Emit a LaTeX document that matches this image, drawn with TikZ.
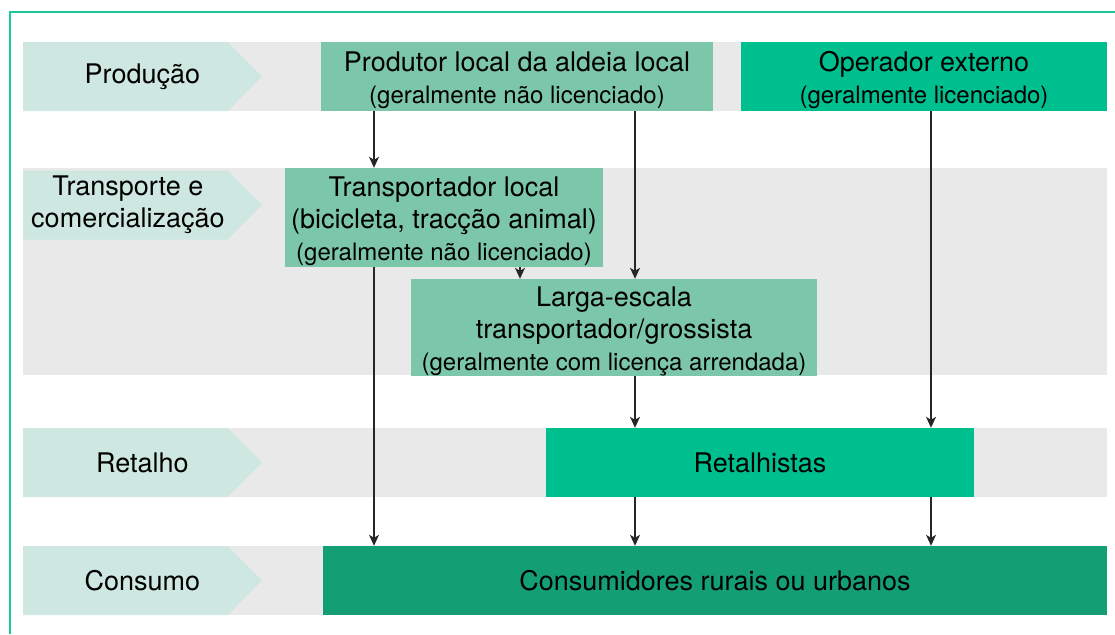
\documentclass[tikz,border=0pt]{standalone}
\usepackage{fontspec}
\setmainfont{TeX Gyre Heros}
\usepackage{xcolor}
\usepackage{tikz}
\usetikzlibrary{arrows.meta, shapes.symbols, positioning}

\definecolor{bandgray}{HTML}{E9E9E9}
\definecolor{stagemint}{HTML}{CEE7E0}
\definecolor{localgreen}{HTML}{7CC6AA}
\definecolor{tradegreen}{HTML}{00BF8F}
\definecolor{consgreen}{HTML}{149E74}
\definecolor{framegreen}{HTML}{1CC79C}
\definecolor{flowgray}{HTML}{262626}

\newcommand{\bigfont}{\fontsize{27}{32}\selectfont}
\newcommand{\smallfont}{\fontsize{24}{32}\selectfont}
\newcommand{\topstrut}{\rule{0pt}{27pt}}

\begin{document}
\begin{tikzpicture}[x=1pt,y=-1pt,>={Stealth[length=11pt,width=10pt,inset=3pt]},
    band/.style={fill=bandgray},
    stage/.style={shape=signal,signal to=east,signal pointer angle=90,fill=stagemint,anchor=west,
      minimum width=239pt,minimum height=69pt,inner sep=0pt,font=\bigfont,align=center},
    actor/.style={shape=rectangle,inner sep=0pt,font=\bigfont,align=center},
    flow/.style={->,line width=1.3pt,color=flowgray}]
    \useasboundingbox (0,0) rectangle (1115,634);

    %%%% frame
    \draw [color=framegreen,line width=2pt] (9.5,634) |- (1115,12);

    %%%% bands
    \fill [band] (23,42) rectangle (1107,111); %
    \fill [band] (23,168) rectangle (1107,375); %
    \fill [band] (23,428) rectangle (1107,497); %
    \fill [band] (23,546) rectangle (1107,615); %

    %%%% stages
    \node (s1) at (23,76.5) [stage] {\hspace*{34pt}Produção}; %
    \node (s2) at (23,205) [stage] {\hspace*{5pt}Transporte e\\\hspace*{5pt}comercialização}; %
    \node (s3) at (23,462.5) [stage] {\hspace*{34pt}Retalho}; %
    \node (s4) at (23,580.5) [stage] {\hspace*{34pt}Consumo}; %

    %%%% actors
    \node (prod) at (517,76.5) [actor,fill=localgreen,minimum width=392pt,minimum height=69pt]
      {\topstrut Produtor local da aldeia local\\\smallfont(geralmente não licenciado)}; %
    \node (oper) at (924,76.5) [actor,fill=tradegreen,minimum width=366pt,minimum height=69pt]
      {\topstrut Operador externo\\\smallfont(geralmente licenciado)}; %
    \node (trans) at (444,217.5) [actor,fill=localgreen,minimum width=318pt,minimum height=99pt]
      {\topstrut Transportador local\\(bicicleta, tracção animal)\\\smallfont(geralmente não licenciado)}; %
    \node (larga) at (614,327.5) [actor,fill=localgreen,minimum width=406pt,minimum height=97pt]
      {\topstrut Larga-escala\\transportador/grossista\\\smallfont(geralmente com licença arrendada)}; %
    \node (retal) at (760,462.5) [actor,fill=tradegreen,minimum width=428pt,minimum height=69pt]
      {Retalhistas}; %
    \node (cons) at (715,580.5) [actor,fill=consgreen,minimum width=784pt,minimum height=69pt]
      {Consumidores rurais ou urbanos}; %

    %%%% columns
    \coordinate (c1) at (374,0);
    \coordinate (c2) at (520,0);
    \coordinate (c3) at (635,0);
    \coordinate (c4) at (931,0);

    %%%% arcs
    \draw [flow] (c1 |- prod.south) to (c1 |- trans.north); %
    \draw [flow] (c1 |- trans.south) to (c1 |- cons.north); %
    \draw [flow] (c2 |- trans.south) to (c2 |- larga.north); %
    \draw [flow] (c3 |- prod.south) to (c3 |- larga.north); %
    \draw [flow] (c3 |- larga.south) to (c3 |- retal.north); %
    \draw [flow] (c3 |- retal.south) to (c3 |- cons.north); %
    \draw [flow] (c4 |- oper.south) to (c4 |- retal.north); %
    \draw [flow] (c4 |- retal.south) to (c4 |- cons.north); %
\end{tikzpicture}
\end{document}
